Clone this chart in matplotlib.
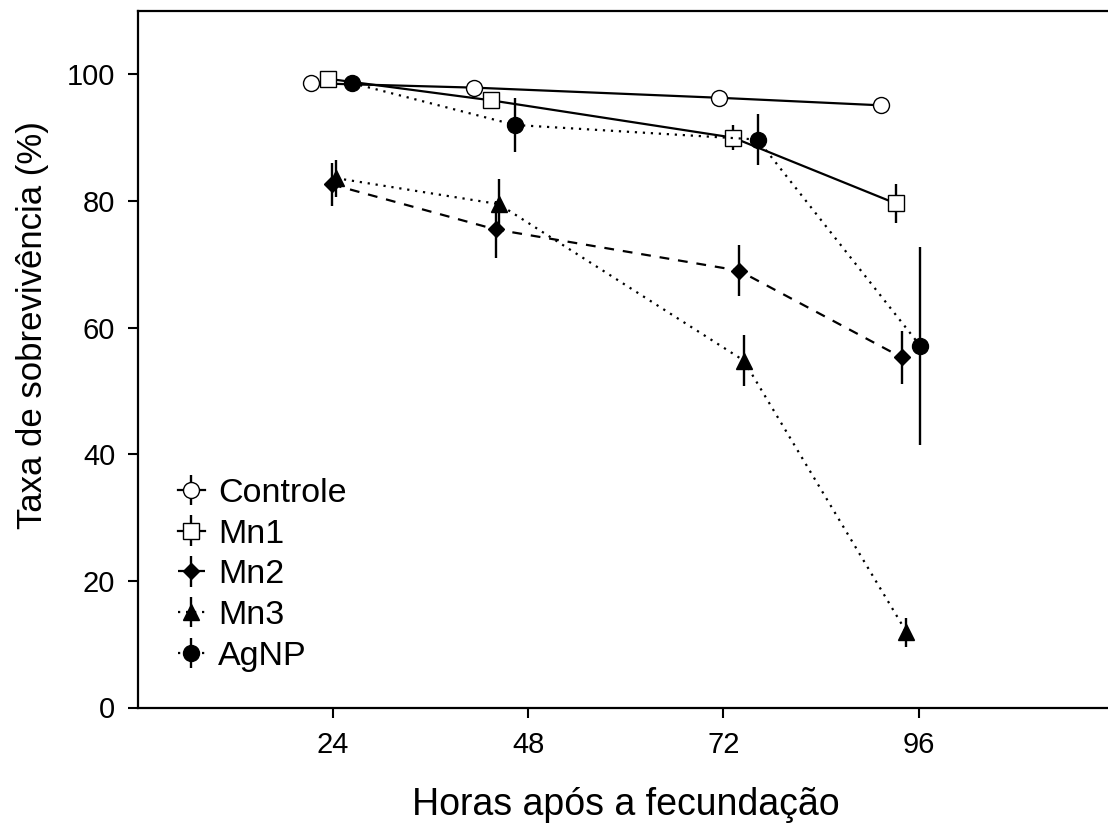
import matplotlib
matplotlib.use("Agg")
import matplotlib.pyplot as plt
from matplotlib.legend_handler import HandlerErrorbar

plt.rcParams['font.family'] = ['Liberation Sans', 'DejaVu Sans']

# ---- data ----
controle_h = [21.3, 41.3, 71.4, 91.4]
controle = [98.6, 97.9, 96.3, 95.1]
controle_err = [0.5, 0.5, 0.5, 0.5]

mn1_h = [23.4, 43.4, 73.2, 93.2]
mn1 = [99.3, 95.9, 90.0, 79.6]
mn1_err = [0.8, 1.0, 2.0, 3.1]

mn2_h = [23.9, 44.0, 73.9, 93.9]
mn2 = [82.6, 75.5, 69.0, 55.3]
mn2_err = [3.4, 4.5, 4.0, 4.2]

mn3_h = [24.4, 44.4, 74.5, 94.5]
mn3 = [83.6, 79.5, 54.8, 11.9]
mn3_err = [2.9, 3.9, 4.0, 2.3]

agnp_h = [26.4, 46.4, 76.2, 96.2]
agnp = [98.6, 92.0, 89.7, 57.1]
agnp_err = [0.5, 4.3, 4.1, 15.6]

labels = ["Controle", "Mn1", "Mn2", "Mn3", "AgNP"]
xticks = [24, 48, 72, 96]
yticks = [0, 20, 40, 60, 80, 100]

W, H = 1108, 823
fig = plt.figure(figsize=(W / 100, H / 100), dpi=100)
x0, x1 = 137.5, 1114.0
y0, y1 = 707.5, 11.0
ax = fig.add_axes([x0 / W, (H - y0) / H, (x1 - x0) / W, (y0 - y1) / H])

lw = 1.6
dotted = (0, (1, 2.6))
dashed = (0, (4.4, 4.0))

series = [
    (controle_h, controle, controle_err, 'o', 'white', '-', 11.5, 1.0),
    (mn1_h, mn1, mn1_err, 's', 'white', '-', 11.0, 1.0),
    (mn2_h, mn2, mn2_err, 'D', 'black', dashed, 8.5, 1.0),
    (mn3_h, mn3, mn3_err, '^', 'black', dotted, 11.0, 1.0),
    (agnp_h, agnp, agnp_err, 'o', 'black', dotted, 11.5, 1.0),
]

handles = []
for (hx, hy, he, mk, fc, ls, ms, mew), lab in zip(series, labels):
    c = ax.errorbar(hx, hy, yerr=he, fmt=mk, linestyle=ls, color='black',
                    lw=lw, ms=ms, mfc=fc, mec='black', mew=mew,
                    elinewidth=1.7, ecolor='black', capsize=0, label=lab)
    handles.append(c)

ax.set_xlim(0, 120)
ax.set_ylim(0, 110)
ax.set_xticks(xticks)
ax.set_yticks(yticks)
ax.tick_params(axis='both', direction='out', length=7, width=1.5,
               labelsize=21, colors='black')
ax.tick_params(axis='x', pad=10)
ax.tick_params(axis='y', pad=9)
for s in ['left', 'bottom', 'top']:
    ax.spines[s].set_linewidth(1.6)
ax.spines['right'].set_visible(False)

ax.set_xlabel("Horas após a fecundação", fontsize=27, labelpad=20)
ax.set_ylabel("Taxa de sobrevivência (%)", fontsize=25)
ax.yaxis.set_label_coords(-(x0 - 49) / (x1 - x0), (y0 - 325) / (y0 - y1))

leg = ax.legend(handles=handles, labels=labels, loc='upper left',
                bbox_to_anchor=(40 / (x1 - x0), (y0 - 478) / (y0 - y1)),
                frameon=False, fontsize=24.5, handlelength=0.8,
                handletextpad=0.4, labelspacing=0.285, borderpad=0,
                borderaxespad=0, numpoints=1,
                handler_map={type(handles[0]): HandlerErrorbar(yerr_size=0.45)})

fig.savefig("out.png", dpi=100)
